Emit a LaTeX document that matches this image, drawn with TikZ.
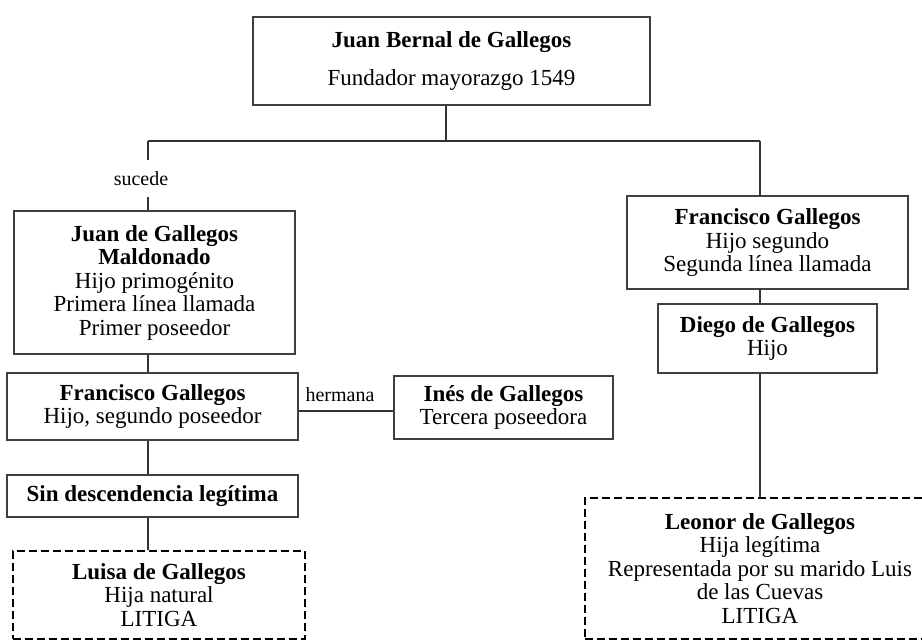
\documentclass[tikz,border=0pt]{standalone}
\usepackage{fontspec}
\setmainfont{Liberation Serif}
\begin{document}
\begin{tikzpicture}[x=1pt,y=-1pt,
  box/.style={draw=black!75, line width=1.2pt, align=center, inner sep=0pt,
    font=\fontsize{23}{23.5}\selectfont},
  dbox/.style={box, draw=black, line width=2pt, dash pattern=on 8pt off 4pt},
  lbl/.style={inner sep=0pt, font=\fontsize{20}{21}\selectfont},
  conn/.style={draw=black!80, line width=1.2pt}]
\useasboundingbox (0,0) rectangle (922,640);
\clip (0,0) rectangle (922,640);
\fill[white] (0,0) rectangle (922,640);

% columns for connectors
\coordinate (lx) at (148,0);
\coordinate (rx) at (760,0);
\coordinate (tx) at (446,0);
\coordinate (busL) at (148,141);
\coordinate (busR) at (760,141);

\node[box, minimum width=397pt, minimum height=88pt] (top) at (451.5,61)
  {\textbf{Juan Bernal de Gallegos}\\[15pt]Fundador mayorazgo 1549};

\node[box, minimum width=281pt, minimum height=143pt] (juan) at (154.5,282.5)
  {\textbf{Juan de Gallegos}\\\textbf{Maldonado}\\Hijo primogénito\\Primera línea llamada\\Primer poseedor};

\node[box, minimum width=291pt, minimum height=67pt] (franL) at (152.5,406.5)
  {\textbf{Francisco Gallegos}\\Hijo, segundo poseedor};

\node[box, minimum width=219pt, minimum height=63pt] (ines) at (503.5,407.5)
  {\textbf{Inés de Gallegos}\\Tercera poseedora};

\node[box, minimum width=291pt, minimum height=42pt] (sin) at (152.5,496)
  {\textbf{Sin descendencia legítima}};

\node[dbox, minimum width=292pt, minimum height=88pt] (luisa) at (159,595)
  {\textbf{Luisa de Gallegos}\\Hija natural\\LITIGA};

\node[box, minimum width=281pt, minimum height=93pt] (franR) at (767.5,242.5)
  {\textbf{Francisco Gallegos}\\Hijo segundo\\Segunda línea llamada};

\node[box, minimum width=219pt, minimum height=69pt] (diego) at (767.5,338.5)
  {\textbf{Diego de Gallegos}\\Hijo};

\node[dbox, minimum width=350pt, minimum height=141pt] (leonor) at (760,568.5)
  {\textbf{Leonor de Gallegos}\\Hija legítima\\Representada por su marido Luis\\de las Cuevas\\LITIGA};

% labels
\node[lbl, minimum height=37pt] (sucede) at (141,178.5) {sucede};
\node[lbl] (hermana) at (340,395) {hermana};
\coordinate (hy) at (0,411);

% connectors
\draw[conn] (top.south -| tx) -- (tx |- busL);
\draw[conn] (busL) -- (busR);
\draw[conn] (busL) -- (sucede.north -| lx);
\draw[conn] (sucede.south -| lx) -- (juan.north -| lx);
\draw[conn] (busR) -- (franR.north -| rx);
\draw[conn] (juan.south -| lx) -- (franL.north -| lx);
\draw[conn] (franL.south -| lx) -- (sin.north -| lx);
\draw[conn] (sin.south -| lx) -- (luisa.north -| lx);
\draw[conn] (franL.east |- hy) -- (ines.west |- hy);
\draw[conn] (franR.south -| rx) -- (diego.north -| rx);
\draw[conn] (diego.south -| rx) -- (leonor.north -| rx);
\end{tikzpicture}
\end{document}
